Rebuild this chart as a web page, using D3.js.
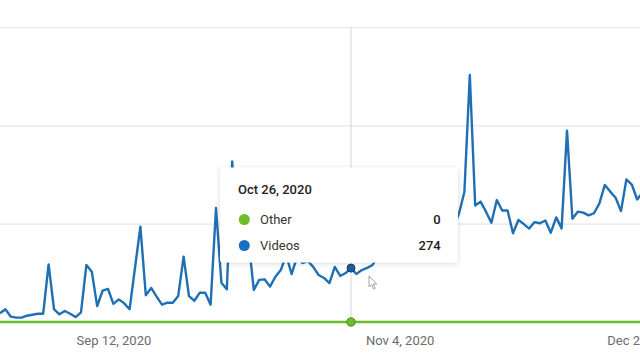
<!DOCTYPE html>
<html>
<head>
<meta charset="utf-8">
<script src="https://cdn.jsdelivr.net/npm/d3@7"></script>
<style>
  html, body { margin: 0; padding: 0; background: #fff; }
  svg { display: block; font-family: Roboto, "Noto Sans", sans-serif; }
</style>
</head>
<body>
<svg id="chart" width="640" height="360"></svg>
<script>
// ---- Data ----
const startDate = "2020-08-22";
const videos = [
  44, 65, 27, 22, 22, 32, 37, 42, 42, 293,
  65, 39, 56, 42, 25, 49, 290, 256, 81, 159,
  168, 92, 115, 95, 65, 275, 485, 136, 173, 129,
  88, 98, 98, 132, 332, 132, 108, 149, 149, 88,
  580, 200, 166, 816, 380, 330, 420, 163, 214, 217,
  180, 230, 264, 340, 244, 330, 300, 310, 280, 239,
  224, 198, 280, 234, 249, 274, 244, 264, 275, 290,
  340, 360, 330, 380, 410, 370, 350, 400, 430, 390,
  420, 460, 440, 410, 480, 552, 661, 1256, 592, 612,
  561, 505, 620, 567, 567, 451, 519, 498, 475, 508,
  502, 516, 454, 532, 476, 973, 525, 561, 556, 542,
  553, 603, 697, 663, 632, 564, 725, 699, 623, 660
];
const other = [
  0,0,0,0,0,0,0,0,0,0, 0,0,0,0,0,0,0,0,0,0,
  0,0,0,0,0,0,0,0,0,0, 0,0,0,0,0,0,0,0,0,0,
  0,0,0,0,0,0,0,0,0,0, 0,0,0,0,0,0,0,0,0,0,
  0,0,0,0,0,0,0,0,0,0, 0,0,0,0,0,0,0,0,0,0,
  0,0,0,0,0,0,0,0,0,0, 0,0,0,0,0,0,0,0,0,0,
  0,0,0,0,0,0,0,0,0,0, 0,0,0,0,0,0,0,0,0,0
];
const tickDates = ["2020-09-12", "2020-11-04", "2020-12-27"];
const gridValues = [500, 1000, 1500];
const hoverDate = "2020-10-26";
const tooltipTitle = "Oct 26, 2020";
const seriesNames = ["Other", "Videos"];

// ---- Setup ----
const parse = d3.utcParse("%Y-%m-%d");
const fmt = d3.utcFormat("%b %-d, %Y");
const day0 = parse(startDate);
const dates = videos.map((_, i) => d3.utcDay.offset(day0, i));
const chartEnd = parse("2020-12-27");

const svg = d3.select("#chart");
const x = d3.scaleUtc().domain([day0, chartEnd]).range([0, 5.4 * 127]);
const y = d3.scaleLinear().domain([0, 1500]).range([322, 27]);

const colBlue = "#1f6fb5";
const colGreen = "#6cbd2a";

// gridlines
const gAxisY = svg.append("g")
  .call(d3.axisLeft(y).tickValues(gridValues).tickSize(-700).tickFormat(""));
gAxisY.select(".domain").remove();
gAxisY.selectAll(".tick line").attr("stroke", "#e6e6e6").attr("stroke-width", 1.2);

// crosshair vertical line
const hd = parse(hoverDate);
const hi = dates.findIndex(d => +d === +hd);
svg.append("line")
  .attr("x1", x(hd)).attr("x2", x(hd))
  .attr("y1", y(1500)).attr("y2", y(0))
  .attr("stroke", "#dcdcdc").attr("stroke-width", 1.2);

// x axis labels
const gx = svg.append("g").attr("transform", "translate(0,322)")
  .call(d3.axisBottom(x).tickValues(tickDates.map(parse)).tickSize(0).tickPadding(14).tickFormat(fmt));
gx.select(".domain").remove();
gx.selectAll("text")
  .attr("font-family", "Roboto, sans-serif")
  .attr("font-size", 13)
  .attr("fill", "#6b6b6b");
// last label clamped inside chart right edge (chart continues past the crop)
gx.selectAll(".tick").filter(d => +d === +chartEnd).select("text")
  .attr("text-anchor", "end").attr("dx", -4);

// lines
const lineGen = d3.line().x((d, i) => x(dates[i])).y(d => y(d));
svg.append("path").datum(videos)
  .attr("fill", "none").attr("stroke", colBlue).attr("stroke-width", 2.4)
  .attr("stroke-linejoin", "round").attr("d", lineGen);
svg.append("path").datum(other)
  .attr("fill", "none").attr("stroke", colGreen).attr("stroke-width", 2.4)
  .attr("d", lineGen);

// hover points
svg.append("circle").attr("cx", x(hd)).attr("cy", y(videos[hi])).attr("r", 4)
  .attr("fill", "#1b5e9c").attr("stroke", "#15406a").attr("stroke-width", 1);
svg.append("circle").attr("cx", x(hd)).attr("cy", y(other[hi])).attr("r", 4.2)
  .attr("fill", colGreen).attr("stroke", "#4f8a1c").attr("stroke-width", 1);

// mouse cursor
svg.append("path")
  .attr("transform", "translate(369,276)")
  .attr("d", "M0,0 L0,11 L2.6,8.6 L4.6,13 L6.2,12.3 L4.3,8 L7.8,8 Z")
  .attr("fill", "#fff").attr("stroke", "#9a9a9a").attr("stroke-width", 0.9);

// tooltip
const defs = svg.append("defs");
const f = defs.append("filter").attr("id", "shadow").attr("x", "-10%").attr("y", "-20%")
  .attr("width", "120%").attr("height", "150%");
f.append("feDropShadow").attr("dx", 0).attr("dy", 1).attr("stdDeviation", 2.6)
  .attr("flood-color", "#000").attr("flood-opacity", 0.16);

const tip = svg.append("g").attr("transform", "translate(220,167.5)");
tip.append("rect").attr("width", 238).attr("height", 95).attr("rx", 3)
  .attr("fill", "#fff").attr("filter", "url(#shadow)");
tip.append("text").attr("x", 18).attr("y", 26)
  .attr("font-size", 13).attr("font-weight", 500).attr("fill", "#212121")
  .text(tooltipTitle);
const rows = [
  { name: seriesNames[0], value: other[hi], color: colGreen },
  { name: seriesNames[1], value: videos[hi], color: "#1a6fc0" }
];
rows.forEach((r, k) => {
  const by = 56.5 + k * 26;
  tip.append("circle").attr("cx", 24.3).attr("cy", by - 4.5).attr("r", 5.5).attr("fill", r.color);
  tip.append("text").attr("x", 40).attr("y", by)
    .attr("font-size", 13).attr("fill", "#333").text(r.name);
  tip.append("text").attr("x", 220.7).attr("y", by).attr("text-anchor", "end")
    .attr("font-size", 13).attr("font-weight", 500).attr("fill", "#212121").text(r.value);
});
</script>
</body>
</html>
